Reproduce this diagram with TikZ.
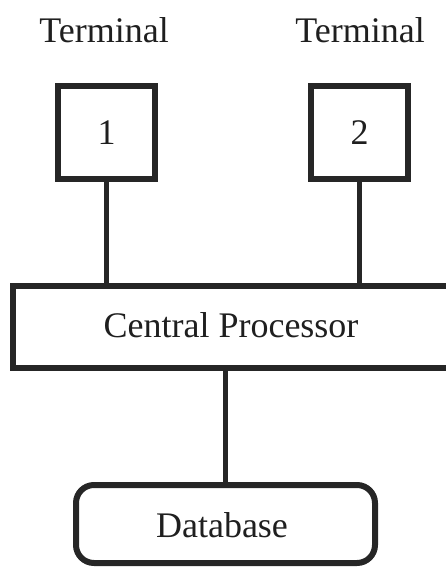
\documentclass[tikz,border=0pt]{standalone}
\usepackage{fontspec}
\setmainfont{Liberation Serif}
\begin{document}
\begin{tikzpicture}[x=0.5pt,y=-0.5pt,
  ink/.style={draw=black!85},
  label/.style={font=\fontsize{18}{20}\selectfont, text=black!88, inner sep=0pt},
  termbox/.style={ink, line width=3pt, rectangle, minimum width=48.5pt, minimum height=46.5pt,
    font=\fontsize{18}{20}\selectfont, text=black!88, inner sep=0pt},
  wire/.style={draw=black!85, line width=2.6pt}]
\useasboundingbox (0,0) rectangle (445,567);

% terminal labels
\node[label, anchor=base] (lab1) at (104,43) {Terminal};
\node[label, anchor=base] (lab2) at (360,43) {Terminal};

% terminals
\node[termbox] (t1) at (106.5,132.5) {1};
\node[termbox] (t2) at (359.5,132.5) {2};

% central processor (runs off the right edge)
\node[ink, line width=3pt, rectangle, minimum width=218.5pt, minimum height=41pt,
  font=\fontsize{18}{20}\selectfont, text=black!88, inner sep=0pt] (cp) at (231.5,327) {};
\node[label, anchor=base] (cptext) at (231,337) {Central Processor};

% database
\node[ink, line width=3pt, rectangle, rounded corners=9pt, minimum width=149.5pt, minimum height=39pt,
  inner sep=0pt] (db) at (225.5,524) {};
\node[label, anchor=base] (dbtext) at (222,537) {Database};

% connectors
\draw[wire] (t1.south) -- (t1.south |- cp.north);
\draw[wire] (t2.south) -- (t2.south |- cp.north);
\draw[wire] (db.north) -- (db.north |- cp.south);
\end{tikzpicture}
\end{document}
